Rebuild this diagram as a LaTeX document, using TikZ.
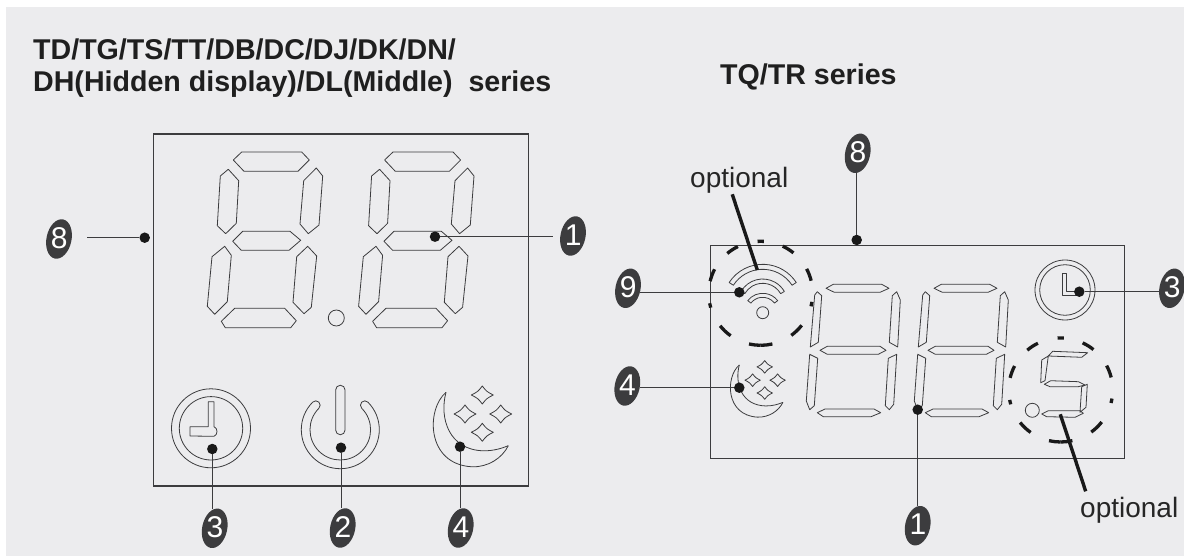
\documentclass[tikz,border=0pt]{standalone}
\usepackage{fontspec}
\setmainfont{Liberation Sans}
\usetikzlibrary{shapes.geometric}
\definecolor{panelgrey}{RGB}{236,236,238}
\definecolor{inkgrey}{RGB}{60,60,62}
\newcommand{\marknum}[1]{\makebox[0pt]{\raisebox{-10.7pt}[0pt][0pt]{\rotatebox{12}{#1}}}}
\tikzset{
	seg/.style={draw=inkgrey, line width=0.8pt, line join=round},
	frame/.style={draw=inkgrey, line width=1.1pt},
	leader/.style={draw=inkgrey, line width=0.9pt},
	optline/.style={draw=black!90, line width=3.4pt},
	ringdash/.style={draw=black!90, line width=3.3pt},
	dotmark/.style={circle, fill=black!90, inner sep=0pt, minimum size=10.5pt},
	badge/.style={ellipse, fill=inkgrey, text=white, inner sep=0pt, minimum width=25pt, minimum height=40pt, rotate=-12, font=\fontsize{30}{30}\selectfont},
	optlabel/.style={inner sep=0pt, anchor=base west, text=black!85, font=\fontsize{28}{28}\selectfont},
	bigdigit/.pic={
		\draw[seg] (241.7,152) -- (301.7,152) -- (309.3,160) -- (298,171.3) -- (244,171.3) -- (233.3,160) -- cycle;
		\draw[seg] (228.3,169.3) -- (238.7,180.7) -- (236.3,223.3) -- (225.7,233.7) -- (217.3,225.7) -- (220.3,176) -- cycle;
		\draw[seg] (316.3,168) -- (322.7,176) -- (319,225) -- (308.3,233.7) -- (300,224) -- (303.7,180.7) -- cycle;
		\draw[seg] (242.7,231.3) -- (290,231.3) -- (300.7,240.3) -- (289,250.3) -- (241.3,250.3) -- (232.7,241.3) -- cycle;
		\draw[seg] (224.7,246.3) -- (231.3,255.3) -- (227.3,301.7) -- (214.7,314.3) -- (207.3,306.3) -- (212,256.7) -- cycle;
		\draw[seg] (307.7,246.3) -- (316.7,256) -- (311.3,307.3) -- (304,313.7) -- (293,302.3) -- (296.7,256.7) -- cycle;
		\draw[seg] (234.7,308.3) -- (284.7,308.3) -- (296.3,320.7) -- (290.7,327.7) -- (225.3,327.7) -- (221.3,321.3) -- cycle;
	},
	slimdigit/.pic={
		\draw[seg] (833.3,284.3) -- (881.7,284.3) -- (889,288.3) -- (880,292.3) -- (834.3,292.3) -- (826,288.3) -- cycle;
		\draw[seg] (817.3,291.7) -- (821.7,295.7) -- (818.3,342.3) -- (810.3,347) -- (814.7,295) -- cycle;
		\draw[seg] (896.7,291.7) -- (900.3,300) -- (897.7,347) -- (889.3,342.3) -- (892.3,295.7) -- cycle;
		\draw[seg] (827.3,346.3) -- (880,346.3) -- (886,350.3) -- (878.3,354.3) -- (827.3,354.3) -- (820,350.3) -- cycle;
		\draw[seg] (809.7,354.3) -- (817.7,358.3) -- (814.3,405.7) -- (809.7,409.7) -- (806.3,401) -- cycle;
		\draw[seg] (896.7,354.3) -- (893.7,404.3) -- (889.3,409.7) -- (885.3,405.7) -- (888.3,358.3) -- cycle;
		\draw[seg] (825,409) -- (874,409) -- (880.7,412.7) -- (871,416.7) -- (823.3,416.7) -- (817.3,412.7) -- cycle;
	},
	moon/.pic={
		\draw[seg] (0,0) .. controls (-20,17) and (-20,72) .. (26,74.5) .. controls (42,75) and (56,66) .. (62.3,53.4);
		\draw[seg] (0,0) .. controls (-7,26) and (3,58) .. (38,58.5) .. controls (48,58.5) and (56,56) .. (62.3,53.4);
		\foreach \sx/\sy in {36.3/2.7, 19/21.7, 54.7/21.7, 36.3/40}
			\draw[seg] (\sx-11,\sy) .. controls (\sx-4.4,\sy-3.4) .. (\sx,\sy-9) .. controls (\sx+4.4,\sy-3.4) .. (\sx+11,\sy) .. controls (\sx+4.4,\sy+3.4) .. (\sx,\sy+9) .. controls (\sx-4.4,\sy+3.4) .. cycle;
	}
}

\begin{document}
\begin{tikzpicture}[x=1pt,y=-1pt]
	\useasboundingbox (0,0) rectangle (1184,556);
	\fill[panelgrey] (5.7,7.5) rectangle (1184,556);
	\node[anchor=base west, inner sep=0pt, align=left, text=black!88, font=\bfseries\fontsize{28.6}{32.7}\selectfont] (titleleft) at (33,92) {TD/TG/TS/TT/DB/DC/DJ/DK/DN/\\DH(Hidden display)/DL(Middle)~~series};
	\node[anchor=base west, inner sep=0pt, text=black!88, font=\bfseries\fontsize{28.6}{32.7}\selectfont] (titleright) at (720,84.3) {TQ/TR series};

	% left panel
	\draw[frame] (153.3,134) rectangle (528.7,486);
	\pic at (0,0) {bigdigit};
	\pic at (151.3,0) {bigdigit};
	\draw[seg] (336.3,318) circle(8);
	\draw[seg] (211,428.3) circle(39.5);
	\draw[seg] (211,428.3) circle(31.7);
	\draw[seg] (208.3,401.7) -- (214,401.7) -- (214,426.7) .. controls (218,428) and (218,435) .. (214,436.3) -- (190,436) -- (190,426.7) -- (208.3,426.7) -- cycle;
	\draw[seg, rounded corners=4.5] (335.7,385.3) rectangle (345,434.7);
	\draw[seg] ([shift={(-135:39)}]340.3,429.7) arc[start angle=-135, end angle=-405, radius=39] arc[start angle=-405, end angle=-585, radius=4.35] arc[start angle=-405, end angle=-135, radius=30.3] arc[start angle=45, end angle=-135, radius=4.35] -- cycle;
	\pic at (446,392.3) {moon};

	% right panel
	\draw[frame] (710.7,245.7) rectangle (1124.3,458.3);
	\pic at (0,0) {slimdigit};
	\pic at (108,0) {slimdigit};
	\foreach \rx/\ry in {760.7/293.3, 1060.7/390}
		\foreach \ra/\rh in {90/3.5, 58/7, 21/7, 348/2.5, 314/8, 276.5/6.5, 263.5/6.5, 226.7/8, 193.5/2.5, 159.5/7, 123/7}
			\draw[ringdash] ([shift={(-\ra-\rh:52)}]\rx,\ry) arc[start angle=-\ra-\rh, end angle=-\ra+\rh, radius=52];
	\foreach \cy/\ro/\ri/\hw in {304.3/40/35/57, 304/25/20.7/60, 312.3/19/15/52}
		\draw[seg] ([shift={(-90-\hw:\ro)}]762.7,\cy) arc[start angle=-90-\hw, end angle=-90+\hw, radius=\ro] -- ([shift={(-90+\hw:\ri)}]762.7,\cy) arc[start angle=-90+\hw, end angle=-90-\hw, radius=\ri] -- cycle;
	\draw[seg] (762.7,312.7) circle(6);
	\draw[seg] (1065,290) circle(30);
	\draw[seg] (1065,290) circle(25.3);
	\draw[seg] (1062.3,273.3) -- (1066,273.3) -- (1066,291.7) -- (1079,291.7) -- (1079,295.7) -- (1062.3,295.7) -- cycle;
	\pic[scale=0.7] at (739.3,365) {moon};
	\draw[seg] (1048.3,356) -- (1052.7,351.3) -- (1087.7,352.7) -- (1081.7,357.3) -- cycle;
	\draw[seg] (1041.7,360) -- (1048.3,356) -- (1045,380.7) -- (1040.7,382.7) -- cycle;
	\draw[seg] (1044.3,384.3) -- (1050.7,380.7) -- (1078.3,381.7) -- (1085,385) -- (1078.3,386.7) -- (1050,386.7) -- cycle;
	\draw[seg] (1087.3,384.3) -- (1086,407.3) -- (1080,412.3) -- (1081.7,386.7) -- cycle;
	\draw[seg] (1048.3,410.7) -- (1080,410.7) -- (1083.3,413.3) -- (1075,417.3) -- (1046.7,416.7) -- (1041.7,414) -- cycle;
	\draw[seg] (1032.3,410.3) circle(7);

	% numbered marks
	\node[badge] (m8l) at (59,239) {\marknum{8}};
	\node[badge] (m1l) at (573,236) {\marknum{1}};
	\node[badge] (m3l) at (214.7,528.3) {\marknum{3}};
	\node[badge] (m2l) at (342.7,528) {\marknum{2}};
	\node[badge] (m4l) at (460.7,528) {\marknum{4}};
	\node[badge] (m8r) at (857.7,153.3) {\marknum{8}};
	\node[badge] (m9r) at (628,288.3) {\marknum{9}};
	\node[badge] (m4r) at (627.3,386) {\marknum{4}};
	\node[badge] (m3r) at (1172,288.3) {\marknum{3}};
	\node[badge] (m1r) at (917.7,525.7) {\marknum{1}};

	\node[dotmark] (d8l) at (144.7,237.7) {};
	\node[dotmark] (d1l) at (435,236.7) {};
	\node[dotmark] (d3l) at (212.3,449) {};
	\node[dotmark] (d2l) at (341,447.7) {};
	\node[dotmark] (d4l) at (460,446.7) {};
	\node[dotmark] (d8r) at (856.7,240) {};
	\node[dotmark] (d9r) at (739.3,292.3) {};
	\node[dotmark] (d4r) at (739.3,387.7) {};
	\node[dotmark] (d3r) at (1079.3,291.7) {};
	\node[dotmark] (d1r) at (917.7,409.7) {};

	\coordinate (f8l) at (87,237.7);
	\coordinate (f1l) at (553,236.7);
	\draw[leader] (f8l) -- (d8l);
	\draw[leader] (d1l) -- (f1l);
	\draw[leader] (d3l) -- (d3l |- m3l.north);
	\draw[leader] (d2l) -- (d2l |- m2l.north);
	\draw[leader] (d4l) -- (d4l |- m4l.north);
	\draw[leader] (d8r) -- (d8r |- m8r.south);
	\draw[leader] (d9r) -- (d9r -| m9r.east);
	\draw[leader] (d4r) -- (d4r -| m4r.east);
	\draw[leader] (d3r) -- (d3r -| m3r.west);
	\draw[leader] (d1r) -- (d1r |- m1r.north);

	% optional marks
	\node[optlabel] (optwifi) at (690,187.3) {optional};
	\node[optlabel] (optfive) at (1080,517.3) {optional};
	\coordinate (wifitip) at (757.3,270);
	\coordinate (fivetip) at (1060.3,414.3);
	\draw[optline] ([xshift=-7pt,yshift=-1pt]optwifi.south) -- (wifitip);
	\draw[optline] (fivetip) -- ([xshift=5.7pt,yshift=5.5pt]optfive.north west);
\end{tikzpicture}
\end{document}
